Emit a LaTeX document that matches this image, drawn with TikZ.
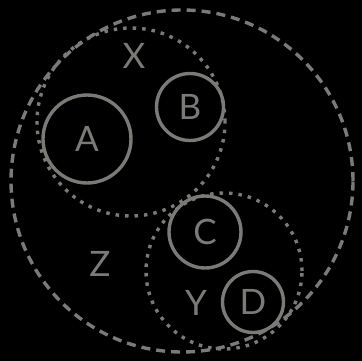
\documentclass[tikz,border=0pt]{standalone}
\usepackage{fontspec}
\setmainfont{Lato}
\definecolor{setgray}{HTML}{7A7A77}

\tikzset{
    set/.style={circle, draw=setgray, line width=3.4pt, inner sep=0pt, minimum size=#1},
    item/.style={set=#1, font=\fontsize{35}{35}\selectfont, text=setgray},
    label/.style={font=\fontsize{35}{35}\selectfont, text=setgray},
    dotline/.style={dash pattern=on 3.5pt off 6pt},
    dashline/.style={dash pattern=on 9pt off 6pt}
}

\begin{document}
\begin{tikzpicture}[x=1pt, y=-1pt]

    % Background and frame
    \fill[black] (0,0) rectangle (362,361);
    \useasboundingbox (0,0) rectangle (362,361);

    % Outer set Z
    \node[set=342pt, dashline] (setZ) at (182,181) {};

    % Inner sets X and Y
    \node[set=188pt, dotline] (setX) at (131,122) {};
    \node[set=156pt, dotline] (setY) at (224,271) {};

    % Elements
    \node[item=88pt] (A) at (87,139) {A};
    \node[item=67pt] (B) at (190,107) {B};
    \node[item=72pt] (C) at (205,232) {C};
    \node[item=61pt] (D) at (253,302) {D};

    % Set names
    \node[label] (labX) at (134,56) {X};
    \node[label] (labY) at (196,303) {Y};
    \node[label] (labZ) at (100,264) {Z};
\end{tikzpicture}
\end{document}
